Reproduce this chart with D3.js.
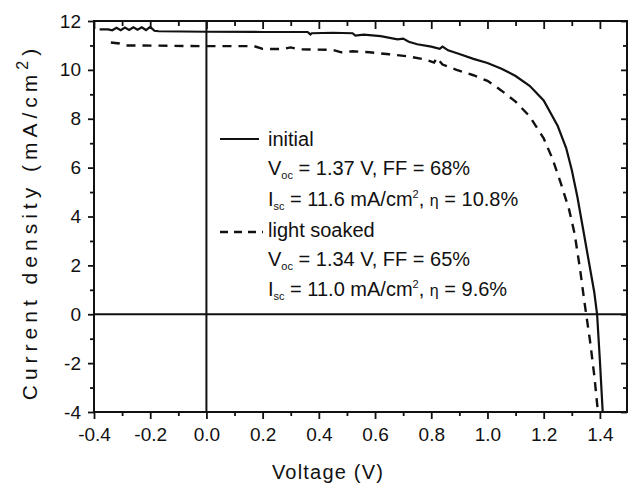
<!DOCTYPE html>
<html>
<head>
<meta charset="utf-8">
<script src="https://cdn.jsdelivr.net/npm/d3@7"></script>
<style>
body { margin: 0; background: #fff; }
svg text { font-family: "Liberation Sans", Arial, sans-serif; fill: #111; }
</style>
</head>
<body>
<div id="chart"></div>
<script>
// J-V curves (V in volts, J in mA/cm2)
var initialV = [-0.38, -0.35, -0.335, -0.32, -0.305, -0.29, -0.275, -0.26, -0.245, -0.23, -0.215, -0.2, -0.185, -0.17,
    0.0, 0.2, 0.36, 0.37, 0.375, 0.45, 0.52, 0.53, 0.56, 0.62, 0.68, 0.7, 0.72, 0.75, 0.8, 0.83, 0.84, 0.86, 0.9,
    0.95, 1.0, 1.05, 1.1, 1.15, 1.2, 1.25, 1.28, 1.3, 1.32, 1.34, 1.36, 1.38, 1.39, 1.4, 1.41];
var initialJ = [11.66, 11.66, 11.62, 11.72, 11.62, 11.73, 11.63, 11.74, 11.64, 11.74, 11.63, 11.76, 11.6, 11.58,
    11.56, 11.55, 11.55, 11.45, 11.5, 11.52, 11.5, 11.4, 11.44, 11.38, 11.25, 11.28, 11.15, 11.05, 10.95, 10.86, 10.95, 10.8, 10.65,
    10.45, 10.28, 10.05, 9.75, 9.35, 8.75, 7.7, 6.8, 5.9, 4.8, 3.5, 2.2, 0.9, 0.0, -1.9, -4.0];

var soakedV = [-0.34, -0.31, -0.29, -0.25, 0.0, 0.17, 0.2, 0.27, 0.3, 0.33, 0.45, 0.48, 0.52, 0.58, 0.65, 0.72, 0.78,
    0.81, 0.82, 0.84, 0.89, 0.95, 1.0, 1.05, 1.1, 1.15, 1.2, 1.23, 1.26, 1.29, 1.31, 1.33, 1.345, 1.355, 1.365, 1.38, 1.393];
var soakedJ = [11.12, 11.08, 11.0, 11.0, 10.97, 10.97, 10.86, 10.85, 10.92, 10.84, 10.82, 10.72, 10.76, 10.72, 10.64, 10.55, 10.42,
    10.3, 10.5, 10.22, 10.0, 9.78, 9.55, 9.15, 8.7, 8.1, 7.2, 6.4, 5.4, 4.3, 3.3, 1.8, 0.5, -0.3, -1.1, -2.5, -4.0];

var xTicks = [-0.4, -0.3, -0.2, -0.1, 0.0, 0.1, 0.2, 0.3, 0.4, 0.5, 0.6, 0.7, 0.8, 0.9, 1.0, 1.1, 1.2, 1.3, 1.4];
var xLabels = ["-0.4", "-0.2", "0.0", "0.2", "0.4", "0.6", "0.8", "1.0", "1.2", "1.4"];
var yTicks = [-4, -3, -2, -1, 0, 1, 2, 3, 4, 5, 6, 7, 8, 9, 10, 11, 12];
var yLabels = ["-4", "-2", "0", "2", "4", "6", "8", "10", "12"];

var W = 628, H = 486;
var svg = d3.select("#chart").append("svg")
    .attr("width", W)
    .attr("height", H);

var x = d3.scaleLinear().domain([-0.4, 1.5]).range([94, 628]);
var y = d3.scaleLinear().domain([-4, 12]).range([412, 21]);

// plain hyphen minus, like the picture
function fx(d) { return d3.format(".1f")(d).replace("\u2212", "-"); }
function fy(d) { return d3.format("d")(d).replace("\u2212", "-"); }
function xMajor(d) { return xLabels.indexOf(fx(d)) >= 0; }
function yMajor(d) { return yLabels.indexOf(fy(d)) >= 0; }

function styleAxis(g, major, big, small, horiz) {
    g.select(".domain").remove();
    g.selectAll(".tick line")
        .attr("stroke", "#111")
        .attr("stroke-width", 1.8)
        .each(function (d) {
            var s = major(d) ? big : small;
            if (horiz) d3.select(this).attr("x2", s);
            else d3.select(this).attr("y2", s);
        });
}

// bottom axis (ticks outward, labels)
var gb = svg.append("g").attr("transform", "translate(0," + y(-4) + ")")
    .call(d3.axisBottom(x).tickValues(xTicks).tickSizeOuter(0)
        .tickFormat(function (d) { return xMajor(d) ? fx(d) : ""; }));
styleAxis(gb, xMajor, 7, 4, false);
gb.selectAll(".tick text").attr("font-size", 19).attr("dy", "1.05em").attr("fill", "#111")
    .style("font-family", "Liberation Sans, Arial, sans-serif");

// left axis (ticks outward, labels)
var gl = svg.append("g").attr("transform", "translate(" + x(-0.4) + ",0)")
    .call(d3.axisLeft(y).tickValues(yTicks).tickSizeOuter(0)
        .tickFormat(function (d) { return yMajor(d) ? fy(d) : ""; }));
styleAxis(gl, yMajor, -6, -4, true);
gl.selectAll(".tick text").attr("font-size", 19).attr("x", -13).attr("fill", "#111")
    .style("font-family", "Liberation Sans, Arial, sans-serif");

// top axis (ticks inward)
var gt = svg.append("g").attr("transform", "translate(0," + y(12) + ")")
    .call(d3.axisTop(x).tickValues(xTicks).tickSizeOuter(0).tickFormat(""));
styleAxis(gt, xMajor, 8, 5, false);

// right axis (ticks inward)
var gr = svg.append("g").attr("transform", "translate(" + (x(1.5) - 1) + ",0)")
    .call(d3.axisRight(y).tickValues(yTicks).tickSizeOuter(0).tickFormat(""));
styleAxis(gr, yMajor, -6, -4, true);

// frame
svg.append("rect")
    .attr("x", x(-0.4)).attr("y", y(12))
    .attr("width", x(1.5) - 1 - x(-0.4)).attr("height", y(-4) - y(12))
    .attr("fill", "none").attr("stroke", "#111").attr("stroke-width", 2);

// zero lines
svg.append("line")
    .attr("x1", x(-0.4)).attr("x2", x(1.5))
    .attr("y1", y(0)).attr("y2", y(0))
    .attr("stroke", "#111").attr("stroke-width", 2);
svg.append("line")
    .attr("x1", x(0)).attr("x2", x(0))
    .attr("y1", y(12)).attr("y2", y(-4))
    .attr("stroke", "#111").attr("stroke-width", 2);

// curves
var line = d3.line()
    .x(function (d) { return x(d[0]); })
    .y(function (d) { return y(d[1]); });

svg.append("path")
    .datum(d3.zip(initialV, initialJ))
    .attr("d", line)
    .attr("fill", "none")
    .attr("stroke", "#111")
    .attr("stroke-width", 2.2);

svg.append("path")
    .datum(d3.zip(soakedV, soakedJ))
    .attr("d", line)
    .attr("fill", "none")
    .attr("stroke", "#111")
    .attr("stroke-width", 2.4)
    .attr("stroke-dasharray", "9,7");

// legend
var leg = svg.append("g").attr("font-size", 20);
leg.append("line").attr("x1", 220).attr("x2", 259).attr("y1", 139).attr("y2", 139)
    .attr("stroke", "#111").attr("stroke-width", 2.2);
leg.append("line").attr("x1", 220).attr("x2", 263).attr("y1", 232).attr("y2", 232)
    .attr("stroke", "#111").attr("stroke-width", 2.4).attr("stroke-dasharray", "8,6");

function addText(yy, parts) {
    var t = leg.append("text").attr("x", 268).attr("y", yy);
    parts.forEach(function (p) {
        var ts = t.append("tspan").text(p[0]);
        if (p[1] == "sub") ts.attr("font-size", 11).attr("dy", 4);
        if (p[1] == "sup") ts.attr("font-size", 11).attr("dy", -8);
        if (p[1] == "back") ts.attr("dy", p[2]);
        if (p[1] == "eta") ts.attr("font-size", 16).attr("dy", p[2] || 0);
    });
}
addText(146, [["initial"]]);
addText(175, [["V"], ["oc", "sub"], [" = 1.37 V, FF = 68%", "back", -4]]);
addText(206, [["I"], ["sc", "sub"], [" = 11.6 mA/cm", "back", -4], ["2", "sup"], [", ", "back", 8], ["\u03b7", "eta"], [" = 10.8%"]]);
addText(237, [["light soaked"]]);
addText(266, [["V"], ["oc", "sub"], [" = 1.34 V, FF = 65%", "back", -4]]);
addText(296, [["I"], ["sc", "sub"], [" = 11.0 mA/cm", "back", -4], ["2", "sup"], [", ", "back", 8], ["\u03b7", "eta"], [" = 9.6%"]]);

// axis titles
svg.append("text")
    .attr("x", 328).attr("y", 479)
    .attr("text-anchor", "middle")
    .attr("font-size", 20)
    .attr("letter-spacing", 1.2)
    .text("Voltage (V)");

var yt = svg.append("text")
    .attr("transform", "translate(37,222) rotate(-90)")
    .attr("text-anchor", "middle")
    .attr("font-size", 21)
    .attr("letter-spacing", 5);
yt.append("tspan").text("Current density (mA/cm");
yt.append("tspan").attr("dy", -9).attr("font-size", 16).text("2");
yt.append("tspan").attr("dy", 9).text(")");
</script>
</body>
</html>
